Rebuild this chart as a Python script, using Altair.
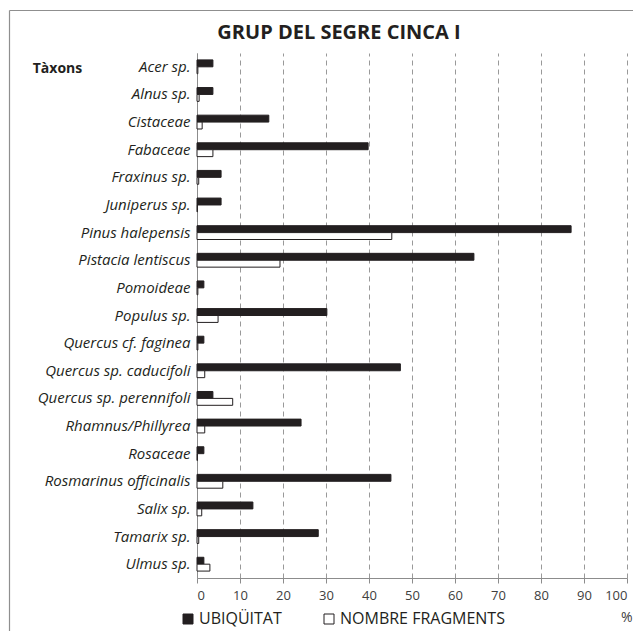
import altair as alt
import pandas as pd

taxa = ["Acer sp.", "Alnus sp.", "Cistaceae", "Fabaceae", "Fraxinus sp.", "Juniperus sp.",
        "Pinus halepensis", "Pistacia lentiscus", "Pomoideae", "Populus sp.",
        "Quercus cf. faginea", "Quercus sp. caducifoli", "Quercus sp. perennifoli",
        "Rhamnus/Phillyrea", "Rosaceae", "Rosmarinus officinalis", "Salix sp.",
        "Tamarix sp.", "Ulmus sp."]
ubiquitat = [3.7, 3.7, 16.7, 39.8, 5.6, 5.6, 87.0, 64.4, 1.6, 30.2,
             1.6, 47.3, 3.7, 24.2, 1.6, 45.1, 13.0, 28.2, 1.6]
fragments = [0.2, 0.5, 1.2, 3.7, 0.4, 0.1, 45.3, 19.3, 0.2, 4.9,
             0.2, 1.8, 8.3, 1.8, 0.1, 6.0, 1.1, 0.4, 3.0]
series = ["UBIQÜITAT", "NOMBRE FRAGMENTS"]
x_ticks = list(range(0, 101, 10))

rows = []
for t, u, f in zip(taxa, ubiquitat, fragments):
    rows.append({"taxon": t, "serie": series[0], "value": u})
    rows.append({"taxon": t, "serie": series[1], "value": f})
df = pd.DataFrame(rows)

LFONT = "Open Sans"
INK = "#231f20"
GRAY = "#8c8c8c"
W, H = 430, 525

bars = alt.Chart(df).mark_bar(stroke=INK, strokeWidth=1).encode(
    x=alt.X("value:Q",
            scale=alt.Scale(domain=[0, 100], nice=False),
            axis=alt.Axis(values=x_ticks, title="%", titleAnchor="end", titleAlign="right",
                          titleX=W + 5, titleY=39, titleBaseline="middle", titleFontWeight="normal",
                          titleFont=LFONT, titleFontSize=14, titleColor="#404040",
                          labelFont=LFONT, labelFontSize=13, labelColor="#404040",
                          labelPadding=6, tickSize=5, tickColor=GRAY, domainColor=GRAY,
                          grid=True, gridColor="#999999", gridDash=[5, 4], gridWidth=1)),
    y=alt.Y("taxon:N", sort=taxa,
            scale=alt.Scale(paddingInner=0.5, paddingOuter=0.25),
            axis=alt.Axis(title="Tàxons", titleAngle=0, titleX=-140, titleY=15,
                          titleAlign="center", titleBaseline="middle",
                          titleFont=LFONT, titleFontSize=14, titleFontWeight="bold", titleColor=INK,
                          labelFont=LFONT, labelFontSize=15, labelFontStyle="italic", labelColor=INK,
                          labelPadding=7, ticks=False, domainColor=GRAY)),
    yOffset=alt.YOffset("serie:N", sort=series),
    color=alt.Color("serie:N", sort=series,
                    scale=alt.Scale(domain=series, range=[INK, "#ffffff"]),
                    legend=alt.Legend(title=None, orient="none", direction="horizontal",
                                      legendX=-17, legendY=558,
                                      symbolType="square", symbolSize=100,
                                      symbolStrokeColor=INK, symbolStrokeWidth=1,
                                      labelFont=LFONT, labelFontSize=16, labelColor=INK,
                                      labelOffset=3, columnPadding=39, labelLimit=300)),
)

frame_df = pd.DataFrame({"a": [0]})
border_left = alt.Chart(frame_df).mark_rule(stroke="#8f8f8f", strokeWidth=1.2).encode(
    x=alt.value(-187.5), y=alt.value(-42.5), y2=alt.value(H + 80))
border_top = alt.Chart(frame_df).mark_rule(stroke="#8f8f8f", strokeWidth=1.2).encode(
    x=alt.value(-187.5), x2=alt.value(W + 40), y=alt.value(-42.5))

chart = alt.layer(border_left, border_top, bars).properties(
    width=W, height=H,
    title=alt.TitleParams("GRUP DEL SEGRE CINCA I", font=LFONT, fontSize=20, fontWeight="bold",
                          color=INK, anchor="middle", frame="group", dx=-73, offset=0, dy=49,
                          baseline="alphabetic"),
    autosize=alt.AutoSizeParams(type="none"),
    padding={"left": 189, "top": 45, "right": 6, "bottom": 54},
).configure_view(stroke=None)

chart.save("out.html", embed_options={"renderer": "svg", "actions": False})
